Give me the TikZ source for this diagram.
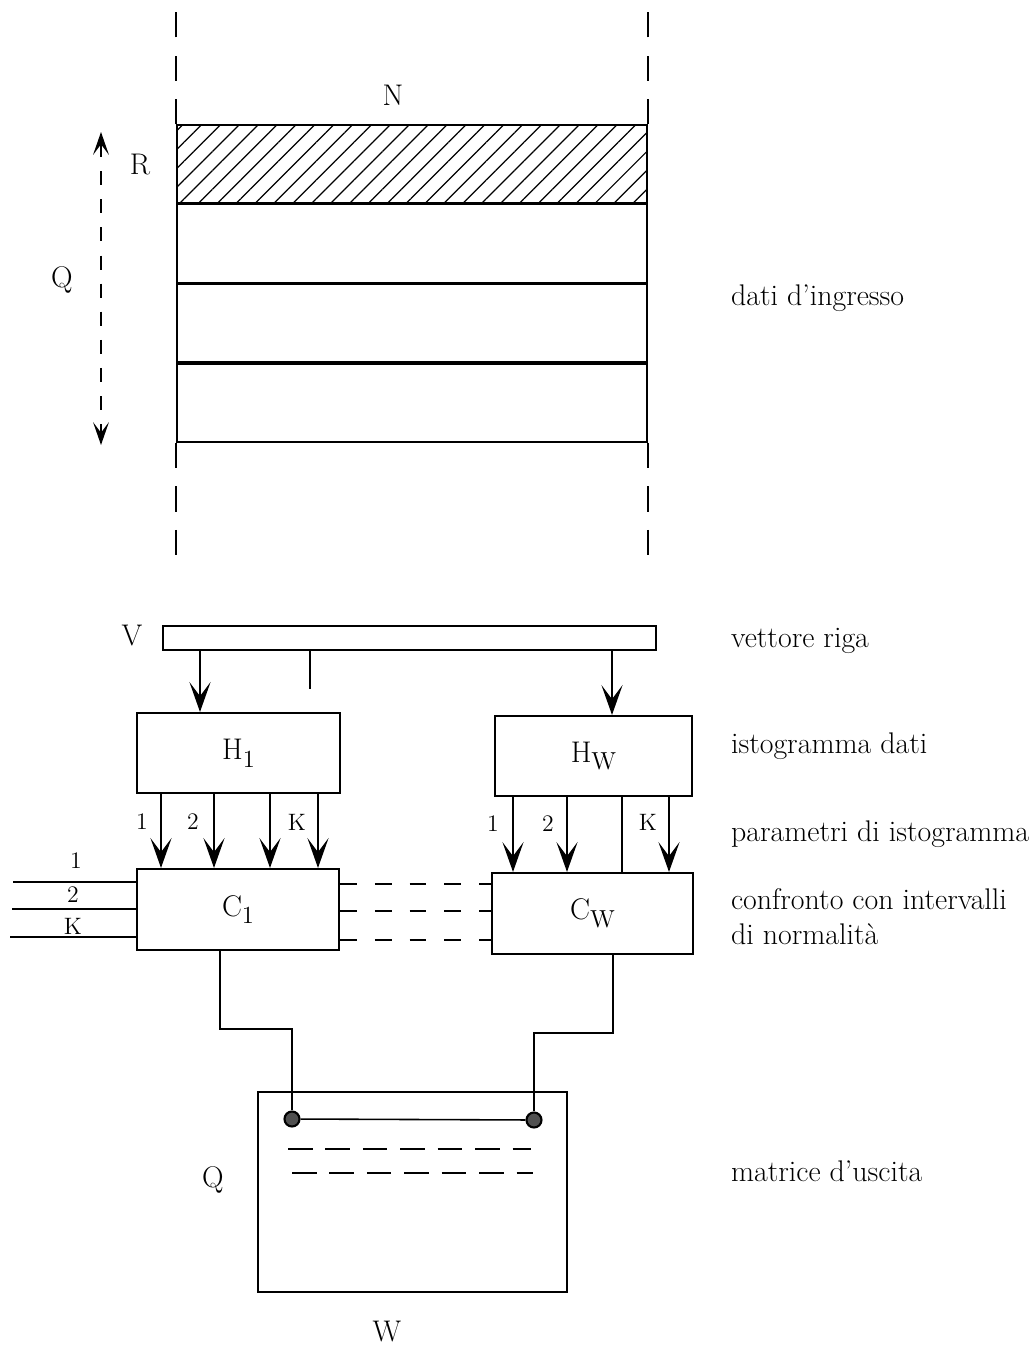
\documentclass[tikz,border=0pt]{standalone}
\usepackage{fontspec}
\usepackage{tikz}
\usetikzlibrary{arrows.meta,positioning,calc,patterns.meta}
\definecolor{dotcolor}{RGB}{80,80,80}
\newcommand{\lowsub}[1]{\raisebox{-0.6ex}{\fontsize{14}{15}\selectfont#1}}

\begin{document}
\begin{tikzpicture}[x=0.02cm,y=-0.02cm,line width=1.2pt,every node/.style={font=\fontsize{17}{20}\selectfont},box/.style={draw,inner sep=0pt},band/.style={draw,line width=1pt,inner sep=0pt,minimum width=9.4cm,minimum height=1.56cm},lbl/.style={anchor=west,inner sep=0pt},num/.style={font=\fontsize{13.5}{15}\selectfont},arr/.style={-{Stealth[length=17pt,width=12pt,inset=8pt]}},qarr/.style={{Stealth[length=13pt,width=9pt,inset=6pt]}-{Stealth[length=13pt,width=9pt,inset=6pt]},dash pattern=on 8pt off 8pt},guide/.style={dash pattern=on 14.4pt off 10.4pt},link/.style={dash pattern=on 9.6pt off 10.2pt},mdash/.style={dash pattern=on 14pt off 7.3pt},dot/.style={circle,draw,fill=dotcolor,inner sep=0pt,minimum size=0.3cm}]
\useasboundingbox (0,0) rectangle (1033,1346);
% dati d'ingresso
\node[band,pattern={Lines[angle=45,distance=7.6pt,line width=0.7pt]}](b1) at (412,164){}; \node[band,below=0pt of b1](b2){}; \node[band,below=0pt of b2](b3){}; \node[band,below=0pt of b3](b4){};
\draw[guide](b1.north west)--++(0,-113); \draw[guide](b1.north east)--++(0,-113); \draw[guide](b4.south west)--++(0,115); \draw[guide](b4.south east)--++(0,115);
\node(n) at (393,95){N}; \node(r) at (140,165){R}; \node(q) at (62,280){Q};
\coordinate(qtop) at (101,132); \coordinate(qbot) at (101,445); \draw[qarr](qtop)--(qbot);
\node[lbl](din) at (730,298){dati d'ingresso};
% elaborazione
\node(v) at (132,636){V}; \node[box,minimum width=9.86cm,minimum height=0.48cm](vbar) at (409.5,638){};
\node[box,minimum width=4.06cm,minimum height=1.6cm](h1) at (238.5,753){H\lowsub{1}}; \node[box,minimum width=3.94cm,minimum height=1.6cm](hw) at (593.5,756){H\lowsub{W}};
\node[box,minimum width=4.04cm,minimum height=1.62cm](c1) at (238,909.5){C\lowsub{1}}; \node[box,minimum width=4.02cm,minimum height=1.62cm](cw) at (592.5,913.5){C\lowsub{W}};
\draw[arr](200,0 |- vbar.south)--(200,0 |- h1.north); \draw(310,0 |- vbar.south)--(310,689); \draw[arr](612,0 |- vbar.south)--(612,0 |- hw.north);
\foreach \x in {161,214,270,318} \draw[arr](\x,0 |- h1.south)--(\x,0 |- c1.north);
\foreach \x in {513,567,669} \draw[arr](\x,0 |- hw.south)--(\x,0 |- cw.north);
\draw(622,0 |- hw.south)--(622,0 |- cw.north);
\node[num] at (142,822){1}; \node[num] at (193,822){2}; \node[num] at (297,822){K};
\node[num] at (493,824){1}; \node[num] at (548,824){2}; \node[num] at (648,822){K};
\foreach \y/\xs in {882/13,909/12,937/10} \draw(c1.west |- 0,\y)--(\xs,\y);
\node[num] at (76,861){1}; \node[num] at (73,895){2}; \node[num] at (73,926){K};
\foreach \y in {884,911,940} \draw[link](c1.east |- 0,\y)--(cw.west |- 0,\y);
\node[lbl](vr) at (730,641){vettore riga}; \node[lbl](ist) at (730,746){istogramma dati}; \node[lbl](par) at (730,834){parametri di istogramma};
\node[lbl,align=left](conf) at (730,917){confronto con intervalli\\di normalità};
% matrice d'uscita
\node[box,minimum width=6.18cm,minimum height=4cm](mat) at (412.5,1192){};
\node[dot](d1) at (292,1119){}; \node[dot](dw) at (534,1120){};
\draw(220,0 |- c1.south)|-(d1 |- 0,1029)--(d1); \draw(613,0 |- cw.south)|-(dw |- 0,1033)--(dw); \draw[line width=0.9pt](d1)--(dw);
\draw[mdash](288,1149)--(531,1149); \draw[mdash](292,1173)--(533,1173);
\node(qm) at (213,1180){Q}; \node(w) at (387,1332){W}; \node[lbl](mu) at (730,1171){matrice d'uscita};
\end{tikzpicture}
\end{document}
